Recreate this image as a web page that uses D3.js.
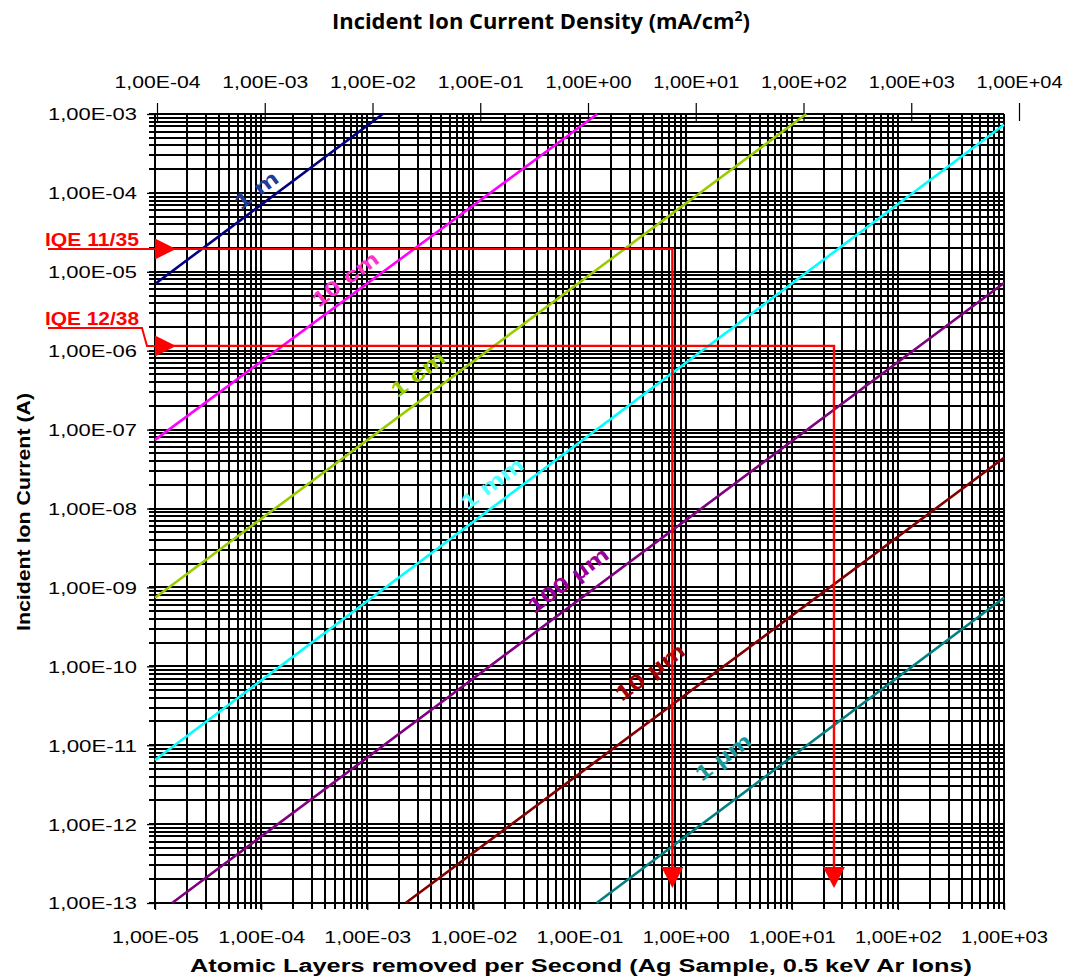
<!DOCTYPE html>
<html>
<head>
<meta charset="utf-8">
<script src="https://cdn.jsdelivr.net/npm/d3@7"></script>
<style>
  html, body { margin: 0; padding: 0; background: #fff; }
  text { font-family: 'Liberation Sans', Arial, Helvetica, sans-serif; }
</style>
</head>
<body>
<div id="chart"></div>
<script>
// ━━━━━━━━━━━━━━━━━━━━━━━━━━━━━━━━━━━━━━━━━━━━━━━━━━━━━━━━━━━━━━━━━━━━━━━━━━━━━━━━━━━━━━
// Datos ///////////////////////////////////////////////////////////
// ━━━━━━━━━━━━━━━━━━━━━━━━━━━━━━━━━━━━━━━━━━━━━━━━━━━━━━━━━━━━━━━━━━━━━━━━━━━━━━━━━━━━━━

const spotNames   = ['1 m', '10 cm', '1 cm', '1 mm', '100 µm', '10 µm', '1 µm'];
// [rate, current] at the two ends of each line
const spotStart   = [[1e-5, 7.0e-6], [1e-5, 7.4e-8], [1e-5, 7.4e-10], [1e-5, 6.5e-12], [1.45e-5, 1e-13], [2.3e-3, 1e-13], [0.145, 1e-13]];
const spotEnd     = [[1.4e-3, 1e-3], [0.147, 1e-3], [13.7, 1e-3], [1e3, 7.3e-4], [1e3, 7.2e-6], [1e3, 4.4e-8], [1e3, 7.4e-10]];
const lineColors  = ['#000080', '#ff00ff', '#99cc00', '#00ffff', '#800080', '#800000', '#008080'];
const labelColors = ['#1f3d99', '#ff33cc', '#99cc00', '#55ffff', '#990099', '#a00000', '#1a9999'];
// label centre, as [rate, current]
const labelAt     = [[9.0e-5, 1.09e-4], [6.2e-4, 8.1e-6], [3.0e-3, 5.1e-7], [1.5e-2, 2.1e-8], [7.8e-2, 1.24e-9], [0.46, 8.5e-11], [2.25, 7.1e-12]];
const labelLen    = [49, 77, 62, 72, 95, 81, 64];

const iqeNames    = ['IQE 11/35', 'IQE 12/38'];
const iqeCurrent  = [1.95e-5, 1.15e-6];
const iqeRate     = [0.75, 25];

const rateTicks    = [1e-5, 1e-4, 1e-3, 1e-2, 1e-1, 1e0, 1e1, 1e2, 1e3];
const densityTicks = [1e-4, 1e-3, 1e-2, 1e-1, 1e0, 1e1, 1e2, 1e3, 1e4];
const currentTicks = [1e-3, 1e-4, 1e-5, 1e-6, 1e-7, 1e-8, 1e-9, 1e-10, 1e-11, 1e-12, 1e-13];

document.addEventListener('DOMContentLoaded', function() {

  const width = 1075;
  const height = 979;

  const svg = d3.select('#chart').append('svg')
    .attr('xmlns', 'http://www.w3.org/2000/svg')
    .attr('viewBox', [0, 0, width, height])
    .attr('width', width)
    .attr('height', height);

  const    grid = svg.append('g').attr('id', 'grid');
  const    axes = svg.append('g').attr('id', 'axes');
  const   spots = svg.append('g').attr('id', 'spots');
  const     iqe = svg.append('g').attr('id', 'iqe');
  const  titles = svg.append('g').attr('id', 'titles');

  // ━━━━━━━━━━━━━━━━━━━━━━━━━━━━━━━━━━━━━━━━━━━━━━━━━━━━━━━━━━━━━━━━━━━━━━━━━━━━━━━━━━━━
  // Escalas ////////////////////////////////////////////////////////////////////////////
  // ━━━━━━━━━━━━━━━━━━━━━━━━━━━━━━━━━━━━━━━━━━━━━━━━━━━━━━━━━━━━━━━━━━━━━━━━━━━━━━━━━━━━

  const x = d3.scaleLog().domain([1e-5, 1e3]).range([155, 1004]);
  const y = d3.scaleLog().domain([1e-13, 1e-3]).range([903, 114]);
  const xTop = d3.scaleLog().domain([1e-4, 1e4]).range([157, 1019]);   // density axis, not aligned with the bottom one

  const expFormat = v => {
    const e = Math.round(Math.log10(v));
    return '1,00E' + (e < 0 ? '-' : '+') + String(Math.abs(e)).padStart(2, '0');
  };

  // ━━━━━━━━━━━━━━━━━━━━━━━━━━━━━━━━━━━━━━━━━━━━━━━━━━━━━━━━━━━━━━━━━━━━━━━━━━━━━━━━━━━━
  // Grilla /////////////////////////////////////////////////////////////////////////////
  // ━━━━━━━━━━━━━━━━━━━━━━━━━━━━━━━━━━━━━━━━━━━━━━━━━━━━━━━━━━━━━━━━━━━━━━━━━━━━━━━━━━━━

  grid.attr('stroke', '#000').attr('stroke-width', 1.5).attr('shape-rendering', 'crispEdges');

  grid.append('g').selectAll('line')
    .data(x.ticks(40))
    .join('line')
    .attr('x1', d => Math.round(x(d))).attr('x2', d => Math.round(x(d)))
    .attr('y1', y(1e-3)).attr('y2', y(1e-13) + 6);

  grid.append('g').selectAll('line')
    .data(y.ticks(60))
    .join('line')
    .attr('y1', d => Math.round(y(d))).attr('y2', d => Math.round(y(d)))
    .attr('x1', x(1e-5) - 6).attr('x2', x(1e3));

  // ━━━━━━━━━━━━━━━━━━━━━━━━━━━━━━━━━━━━━━━━━━━━━━━━━━━━━━━━━━━━━━━━━━━━━━━━━━━━━━━━━━━━
  // Ejes ///////////////////////////////////////////////////////////////////////////////
  // ━━━━━━━━━━━━━━━━━━━━━━━━━━━━━━━━━━━━━━━━━━━━━━━━━━━━━━━━━━━━━━━━━━━━━━━━━━━━━━━━━━━━

  const styleAxis = (g, len) => {
    g.select('.domain').remove();
    g.selectAll('line').attr('stroke', '#000').attr('stroke-width', 1.3);
    g.selectAll('text')
      .attr('fill', '#000')
      .attr('font-size', 17)
      .attr('textLength', len)
      .attr('lengthAdjust', 'spacingAndGlyphs');
  };

  axes.append('g')
    .attr('transform', `translate(${x(1e-5)},0)`)
    .call(d3.axisLeft(y).tickValues(currentTicks).tickFormat(expFormat).tickSize(8).tickPadding(10))
    .call(g => styleAxis(g, 89))
    .call(g => g.selectAll('text').attr('dy', '0.35em'));

  axes.append('g')
    .attr('transform', `translate(0,${y(1e-13)})`)
    .call(d3.axisBottom(x).tickValues(rateTicks).tickFormat(expFormat).tickSize(7).tickPadding(21))
    .call(g => styleAxis(g, 87));

  axes.append('g')
    .attr('transform', 'translate(0,121)')
    .call(d3.axisTop(xTop).tickValues(densityTicks).tickFormat(expFormat).tickSize(18).tickPadding(15))
    .call(g => styleAxis(g, 86))
    .call(g => g.selectAll('line').attr('stroke-width', 1.2));

  // ━━━━━━━━━━━━━━━━━━━━━━━━━━━━━━━━━━━━━━━━━━━━━━━━━━━━━━━━━━━━━━━━━━━━━━━━━━━━━━━━━━━━
  // Líneas por tamaño de spot //////////////////////////////////////////////////////////
  // ━━━━━━━━━━━━━━━━━━━━━━━━━━━━━━━━━━━━━━━━━━━━━━━━━━━━━━━━━━━━━━━━━━━━━━━━━━━━━━━━━━━━

  const spotData = spotNames.map((name, i) => ({
    name, start: spotStart[i], end: spotEnd[i],
    line: lineColors[i], color: labelColors[i], at: labelAt[i], len: labelLen[i]
  }));

  const angle = -Math.atan((y(1e-4) - y(1e-3)) / (x(1e-4) - x(1e-5))) * 180 / Math.PI;

  spots.selectAll('line')
    .data(spotData)
    .join('line')
    .attr('x1', d => x(d.start[0])).attr('y1', d => y(d.start[1]))
    .attr('x2', d => x(d.end[0])).attr('y2', d => y(d.end[1]))
    .attr('stroke', d => d.line)
    .attr('stroke-width', 2.6);

  spots.selectAll('text')
    .data(spotData)
    .join('text')
    .attr('transform', d => `translate(${x(d.at[0])},${y(d.at[1])}) rotate(${angle})`)
    .attr('text-anchor', 'middle')
    .attr('dy', '0.35em')
    .attr('font-size', 21)
    .attr('font-weight', 'bold')
    .attr('fill', d => d.color)
    .attr('textLength', d => d.len)
    .attr('lengthAdjust', 'spacingAndGlyphs')
    .text(d => d.name);

  // ━━━━━━━━━━━━━━━━━━━━━━━━━━━━━━━━━━━━━━━━━━━━━━━━━━━━━━━━━━━━━━━━━━━━━━━━━━━━━━━━━━━━
  // IQE (flechas rojas) ////////////////////////////////////////////////////////////////
  // ━━━━━━━━━━━━━━━━━━━━━━━━━━━━━━━━━━━━━━━━━━━━━━━━━━━━━━━━━━━━━━━━━━━━━━━━━━━━━━━━━━━━

  const red = '#ff0000';
  const x0 = x(1e-5);
  const yBottom = y(1e-13);

  iqeNames.forEach((name, i) => {
    const yy = y(iqeCurrent[i]);
    const xx = x(iqeRate[i]);
    const g = iqe.append('g').attr('data-name', name);

    g.append('path')
      .attr('d', `M${x0},${yy}H${xx}V${yBottom - 34}`)
      .attr('fill', 'none')
      .attr('stroke', red)
      .attr('stroke-width', 2.4);

    // arrow into the axis
    g.append('path')
      .attr('d', `M${x0},${yy - 10.5}L${x0 + 21},${yy}L${x0},${yy + 10.5}Z`)
      .attr('fill', red);

    // arrow down to the rate axis
    g.append('path')
      .attr('d', `M${xx - 11},${yBottom - 36}L${xx + 11},${yBottom - 36}L${xx},${yBottom - 15}Z`)
      .attr('fill', red);

    // label with its underline leader
    const leader = i === 0
      ? `M48,${yy}H${x0}`
      : `M48,${yy - 18}H142L147,${yy}H${x0}`;
    g.append('path')
      .attr('d', leader)
      .attr('fill', 'none')
      .attr('stroke', red)
      .attr('stroke-width', 2);

    g.append('text')
      .attr('x', 45)
      .attr('y', (i === 0 ? yy : yy - 18) - 3)
      .attr('font-size', 18)
      .attr('font-weight', 'bold')
      .attr('fill', red)
      .attr('textLength', 94)
      .attr('lengthAdjust', 'spacingAndGlyphs')
      .text(name);
  });

  // ━━━━━━━━━━━━━━━━━━━━━━━━━━━━━━━━━━━━━━━━━━━━━━━━━━━━━━━━━━━━━━━━━━━━━━━━━━━━━━━━━━━━
  // Títulos ////////////////////////////////////////////////////////////////////////////
  // ━━━━━━━━━━━━━━━━━━━━━━━━━━━━━━━━━━━━━━━━━━━━━━━━━━━━━━━━━━━━━━━━━━━━━━━━━━━━━━━━━━━━

  const top = titles.append('text')
    .attr('x', 332)
    .attr('y', 29)
    .attr('font-size', 22)
    .attr('font-weight', 'bold')
    .attr('fill', '#000')
    .style('font-family', "'Open Sans', 'Noto Sans', sans-serif")
    .attr('textLength', 418)
    .attr('lengthAdjust', 'spacingAndGlyphs');
  top.append('tspan').text('Incident Ion Current Density (mA/cm');
  top.append('tspan').attr('font-size', 14).attr('dy', -8).text('2');
  top.append('tspan').attr('dy', 8).text(')');

  titles.append('text')
    .attr('transform', 'translate(30,512) rotate(-90)')
    .attr('text-anchor', 'middle')
    .attr('font-size', 18)
    .attr('font-weight', 'bold')
    .attr('fill', '#000')
    .attr('textLength', 238)
    .attr('lengthAdjust', 'spacingAndGlyphs')
    .text('Incident Ion Current (A)');

  titles.append('text')
    .attr('x', 190)
    .attr('y', 972)
    .attr('font-size', 18)
    .attr('font-weight', 'bold')
    .attr('fill', '#000')
    .attr('textLength', 782)
    .attr('lengthAdjust', 'spacingAndGlyphs')
    .text('Atomic Layers removed per Second (Ag Sample, 0.5 keV Ar Ions)');

});
</script>
</body>
</html>
